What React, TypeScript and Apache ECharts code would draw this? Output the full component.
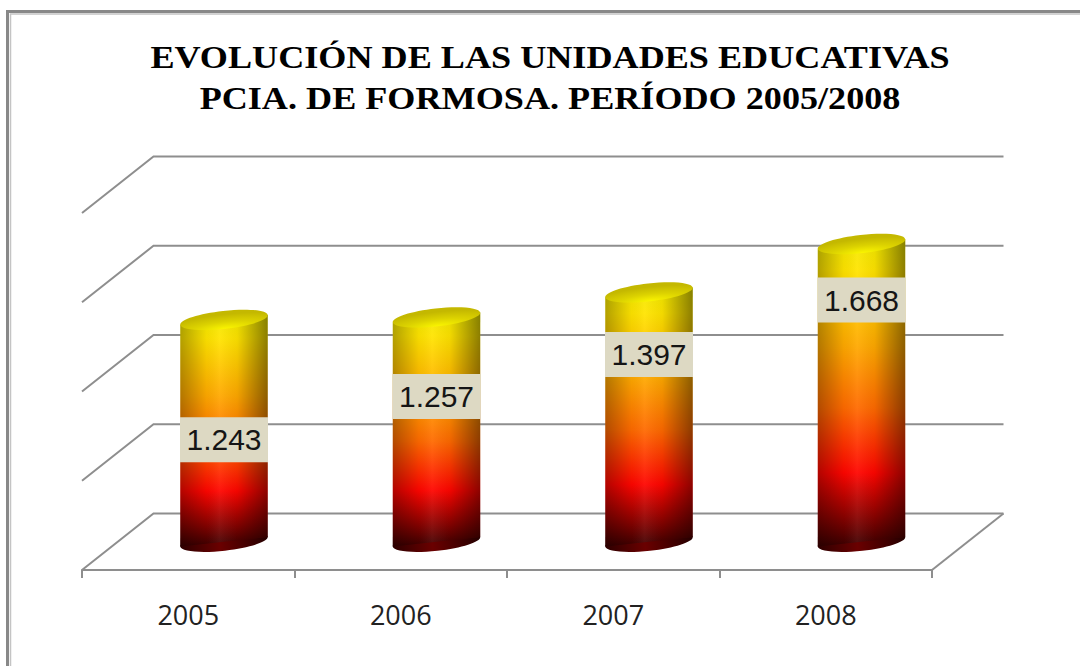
import React, { useEffect, useRef } from "react";
import * as echarts from "echarts";

// ---- data ----
const years = ["2005", "2006", "2007", "2008"];
const unidades = [1243, 1257, 1397, 1668];
const gridValues = [0, 500, 1000, 1500, 2000];
const titleLines = [
  "EVOLUCIÓN DE LAS UNIDADES EDUCATIVAS",
  "PCIA. DE FORMOSA. PERÍODO 2005/2008",
];

// ---- styling ----
const DX = 71.5; // depth offset (x) of back wall
const DY = -56.5; // depth offset (y) of back wall
const LINE = "#8e8e8e";
const labelDrop = [120, 79, 62, 56]; // label nudge below cylinder top (px)
const TILT = 0.11;

const fmt = (v: number) => String(v).replace(/\B(?=(\d{3})+(?!\d))/g, ".");

export default function App() {
  const ref = useRef<HTMLDivElement>(null);
  useEffect(() => {
    if (!ref.current) return;
    const chart = echarts.init(ref.current, undefined, { renderer: "svg" });

    const bodyGrad = () =>
      new echarts.graphic.LinearGradient(0, 0, 0, 1, [
        { offset: 0, color: "#f2ea00" },
        { offset: 0.1, color: "#ffe400" },
        { offset: 0.35, color: "#ffa800" },
        { offset: 0.55, color: "#ff6a00" },
        { offset: 0.76, color: "#ff0500" },
        { offset: 1, color: "#3a0000" },
      ]);
    const shadeGrad = () =>
      new echarts.graphic.LinearGradient(0, 0, 1, 0, [
        { offset: 0, color: "rgba(0,0,0,0.3)" },
        { offset: 0.3, color: "rgba(0,0,0,0.04)" },
        { offset: 0.45, color: "rgba(255,255,255,0.06)" },
        { offset: 0.65, color: "rgba(0,0,0,0.05)" },
        { offset: 1, color: "rgba(0,0,0,0.45)" },
      ]);
    const topGrad = () =>
      new echarts.graphic.RadialGradient(0.5, 1, 0.8, [
        { offset: 0, color: "#fbf500" },
        { offset: 0.5, color: "#dcd200" },
        { offset: 1, color: "#c4b800" },
      ]);
    const botGrad = () =>
      new echarts.graphic.LinearGradient(0, 0, 1, 0, [
        { offset: 0, color: "#2e0000" },
        { offset: 0.45, color: "#6a0000" },
        { offset: 1, color: "#250000" },
      ]);

    const option: any = {
      animation: false,
      grid: { left: 82, right: 148, top: 213, bottom: 96 },
      xAxis: {
        type: "category",
        data: years,
        boundaryGap: true,
        axisLine: { show: true, lineStyle: { color: LINE, width: 2 } },
        axisTick: { show: true, length: 8, interval: 0, lineStyle: { color: LINE, width: 2 } },
        axisLabel: { fontFamily: "Open Sans", fontSize: 27, color: "#222", margin: 31 },
        splitLine: { show: false },
      },
      yAxis: { type: "value", min: 0, max: 2000, interval: 500, show: false },
      graphic: [
        {
          type: "polyline",
          shape: { points: [[7.5, 666], [7.5, 11.5], [1080, 11.5]] },
          style: { stroke: "#888", lineWidth: 3, fill: "none" },
        },
        {
          type: "polyline",
          shape: { points: [[10.5, 666], [10.5, 14], [1080, 14]] },
          style: { stroke: "#c4c4c4", lineWidth: 1.5, fill: "none" },
        },
        ...titleLines.map((t, i) => ({
          type: "text",
          x: 550,
          y: 41 + i * 41,
          scaleX: 1.13,
          style: {
            text: t,
            fill: "#000",
            font: "bold 32px 'Liberation Serif', 'Times New Roman', serif",
            textAlign: "center",
            textVerticalAlign: "top",
          },
        })),
      ],
      series: [
        {
          type: "custom",
          clip: false,
          silent: true,
          data: gridValues.map((v) => [0, v]),
          renderItem: (params: any, api: any) => {
            const v = api.value(1);
            const bw = api.size([1, 0])[0];
            const p0 = api.coord([0, v]);
            const p3 = api.coord([years.length - 1, v]);
            const xl = p0[0] - bw / 2;
            const xr = p3[0] + bw / 2;
            const y = p0[1];
            const children: any[] = [
              {
                type: "polyline",
                shape: { points: [[xl, y], [xl + DX, y + DY], [xr + DX, y + DY]] },
                style: { stroke: LINE, lineWidth: 2, fill: "none" },
              },
            ];
            if (v === 0) {
              children.push({
                type: "line",
                shape: { x1: xr, y1: y, x2: xr + DX, y2: y + DY },
                style: { stroke: LINE, lineWidth: 2 },
              });
            }
            return { type: "group", children };
          },
        },
        {
          type: "custom",
          clip: false,
          data: unidades.map((v, i) => [i, v]),
          encode: { x: 0, y: 1 },
          renderItem: (params: any, api: any) => {
            const i = api.value(0);
            const v = api.value(1);
            const bw = api.size([1, 0])[0];
            const pt = api.coord([i, v]);
            const pb = api.coord([i, 0]);
            const cx = pt[0] + DX / 2;
            const topY = pt[1] + DY / 2;
            const botY = pb[1] + DY / 2;
            const rx = bw * 0.207;
            const ry = 9;
            const ex = rx * Math.cos(TILT);
            const ey = rx * Math.sin(TILT);
            const bodyPts = [
              [cx - ex, topY + ey],
              [cx + ex, topY - ey],
              [cx + ex, botY - ey],
              [cx - ex, botY + ey],
            ];
            const ly = topY + labelDrop[i];
            return {
              type: "group",
              children: [
                {
                  type: "ellipse",
                  x: cx,
                  y: botY,
                  rotation: TILT,
                  shape: { cx: 0, cy: 0, rx, ry },
                  style: { fill: botGrad() },
                },
                { type: "polygon", shape: { points: bodyPts }, style: { fill: bodyGrad() } },
                { type: "polygon", shape: { points: bodyPts }, style: { fill: shadeGrad() } },
                {
                  type: "ellipse",
                  x: cx,
                  y: topY,
                  rotation: TILT,
                  shape: { cx: 0, cy: 0, rx, ry },
                  style: { fill: topGrad() },
                },
                {
                  type: "rect",
                  shape: { x: cx - 44, y: ly - 22.5, width: 88, height: 45 },
                  style: { fill: "#ddd9c3" },
                },
                {
                  type: "text",
                  x: cx,
                  y: ly,
                  style: {
                    text: fmt(v),
                    fill: "#151515",
                    font: "30px 'Liberation Sans', Arial, sans-serif",
                    textAlign: "center",
                    textVerticalAlign: "middle",
                  },
                },
              ],
            };
          },
        },
      ],
    };
    chart.setOption(option);
    return () => chart.dispose();
  }, []);
  return (
    <div
      ref={ref}
      style={{ position: "fixed", left: 0, top: 0, width: 1080, height: 666, background: "#fff" }}
    />
  );
}
